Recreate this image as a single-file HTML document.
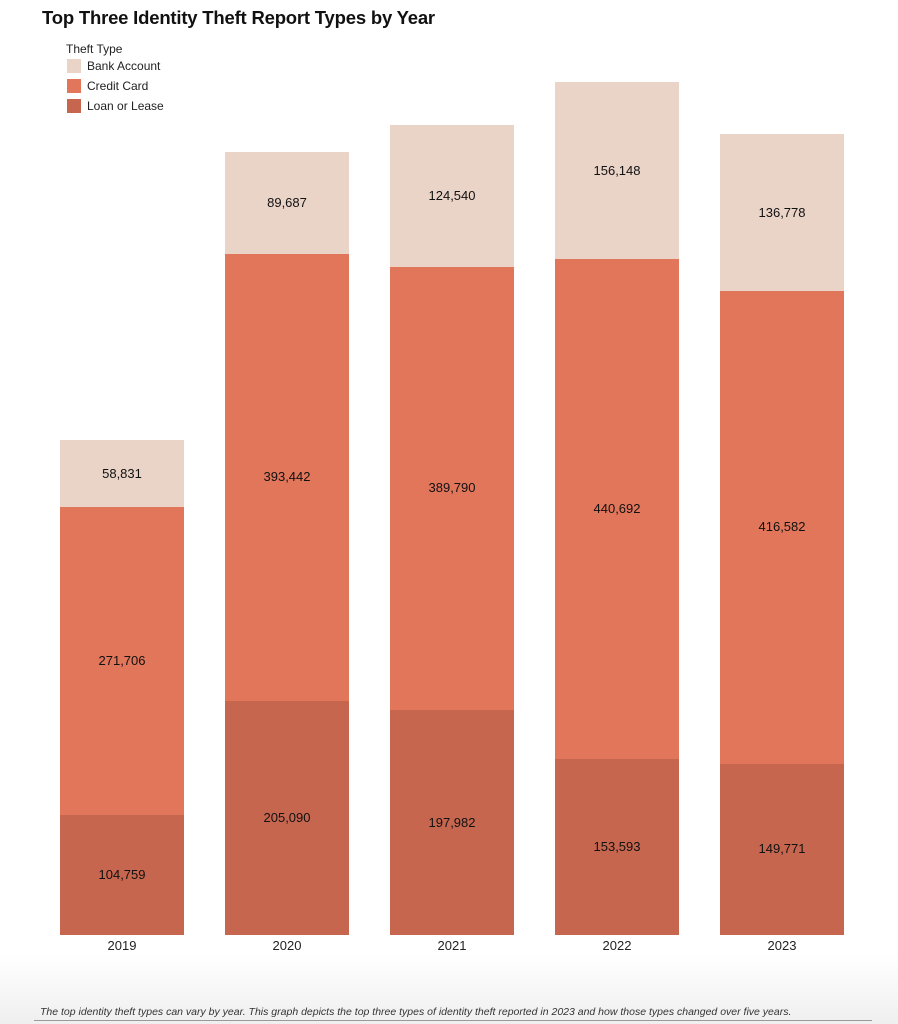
<!DOCTYPE html>
<html><head><style>
body{margin:0;width:898px;height:1024px;position:relative;font-family:"Liberation Sans",sans-serif;background:#fff;overflow:hidden}
.t{position:absolute;left:42px;top:7px;font-size:18.5px;font-weight:bold;color:#111;letter-spacing:-0.2px}
.lg{position:absolute;font-size:12px;color:#222}
.sw{position:absolute;width:14px;height:14px;left:67px}
.b{position:absolute;width:124px}
.l{position:absolute;width:124px;text-align:center;font-size:13px;color:#111}
.y{position:absolute;top:938px;width:124px;text-align:center;font-size:13px;color:#222}
.ft{position:absolute;left:0;top:955px;width:898px;height:69px;background:linear-gradient(#fff,#efefef)}
.note{position:absolute;left:40px;top:1006px;font-size:10.5px;font-style:italic;color:#333}
.ln{position:absolute;left:34px;top:1020px;width:838px;height:1px;background:#999}
</style></head><body>
<div class="t">Top Three Identity Theft Report Types by Year</div>
<div class="lg" style="left:66px;top:42px">Theft Type</div>
<div class="sw" style="top:59px;background:#ead3c7"></div><div class="lg" style="left:87px;top:59px">Bank Account</div>
<div class="sw" style="top:79px;background:#e2765b"></div><div class="lg" style="left:87px;top:79px">Credit Card</div>
<div class="sw" style="top:99px;background:#c7664f"></div><div class="lg" style="left:87px;top:99px">Loan or Lease</div>

<div class="b" style="left:60px;top:440px;height:67px;background:#ead3c7"></div>
<div class="b" style="left:60px;top:507px;height:308px;background:#e2765b"></div>
<div class="b" style="left:60px;top:815px;height:120px;background:#c7664f"></div>
<div class="l" style="left:60px;top:466px">58,831</div>
<div class="l" style="left:60px;top:653px">271,706</div>
<div class="l" style="left:60px;top:867px">104,759</div>
<div class="y" style="left:60px">2019</div>

<div class="b" style="left:225px;top:152px;height:102px;background:#ead3c7"></div>
<div class="b" style="left:225px;top:254px;height:447px;background:#e2765b"></div>
<div class="b" style="left:225px;top:701px;height:234px;background:#c7664f"></div>
<div class="l" style="left:225px;top:195px">89,687</div>
<div class="l" style="left:225px;top:469px">393,442</div>
<div class="l" style="left:225px;top:810px">205,090</div>
<div class="y" style="left:225px">2020</div>

<div class="b" style="left:390px;top:125px;height:142px;background:#ead3c7"></div>
<div class="b" style="left:390px;top:267px;height:443px;background:#e2765b"></div>
<div class="b" style="left:390px;top:710px;height:225px;background:#c7664f"></div>
<div class="l" style="left:390px;top:188px">124,540</div>
<div class="l" style="left:390px;top:480px">389,790</div>
<div class="l" style="left:390px;top:815px">197,982</div>
<div class="y" style="left:390px">2021</div>

<div class="b" style="left:555px;top:82px;height:177px;background:#ead3c7"></div>
<div class="b" style="left:555px;top:259px;height:500px;background:#e2765b"></div>
<div class="b" style="left:555px;top:759px;height:176px;background:#c7664f"></div>
<div class="l" style="left:555px;top:163px">156,148</div>
<div class="l" style="left:555px;top:501px">440,692</div>
<div class="l" style="left:555px;top:839px">153,593</div>
<div class="y" style="left:555px">2022</div>

<div class="b" style="left:720px;top:134px;height:157px;background:#ead3c7"></div>
<div class="b" style="left:720px;top:291px;height:473px;background:#e2765b"></div>
<div class="b" style="left:720px;top:764px;height:171px;background:#c7664f"></div>
<div class="l" style="left:720px;top:205px">136,778</div>
<div class="l" style="left:720px;top:519px">416,582</div>
<div class="l" style="left:720px;top:841px">149,771</div>
<div class="y" style="left:720px">2023</div>

<div class="ft"></div>
<div class="note">The top identity theft types can vary by year. This graph depicts the top three types of identity theft reported in 2023 and how those types changed over five years.</div>
<div class="ln"></div>
</body></html>
